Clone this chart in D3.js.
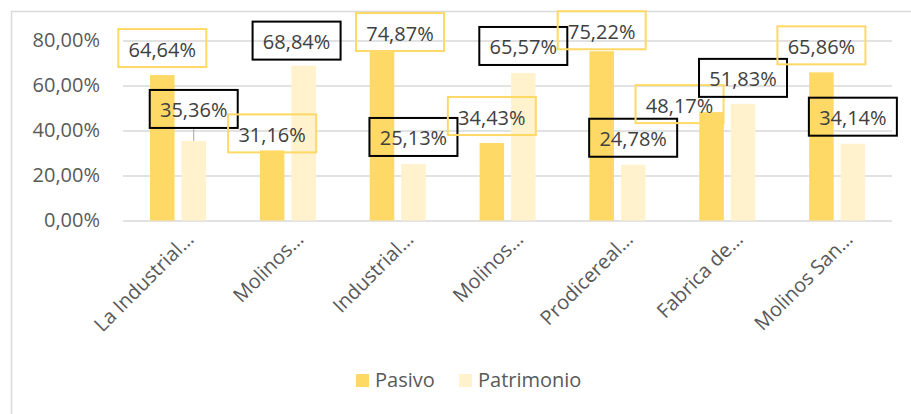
<!DOCTYPE html>
<html>
<head>
<meta charset="utf-8">
<script src="https://cdn.jsdelivr.net/npm/d3@7"></script>
<style>
  body { margin: 0; background: #fff; }
  svg { display: block; font-family: "Open Sans", sans-serif; }
</style>
</head>
<body>
<script>
// data
var empresas = ["La Industrial…", "Molinos…", "Industrial…", "Molinos…", "Prodicereal…", "Fabrica de…", "Molinos San…"];
var series = ["Pasivo", "Patrimonio"];
var pasivo = [64.64, 31.16, 74.87, 34.43, 75.22, 48.17, 65.86];
var patrimonio = [35.36, 68.84, 25.13, 65.57, 24.78, 51.83, 34.14];
var yTicks = [0, 20, 40, 60, 80];

// labels were dragged around by hand in the original, so keep their shifts (px)
var shiftPasivo = [[0, 0], [0, 10], [18, 7], [0, 0], [0, 6], [-32, 19], [0, 0]];
var shiftPatrimonio = [[0, -5], [-7, 2], [0, 0], [0, 0], [0, 0], [0, 1], [0, 0]];

const WIDTH = 911;
const HEIGHT = 414;
const colors = { Pasivo: "#FFD966", Patrimonio: "#FFF2CC" };
const boxStroke = { Pasivo: "#FFD966", Patrimonio: "#000000" };

var svg = d3.select("body").append("svg")
    .attr("width", WIDTH)
    .attr("height", HEIGHT);

// chart frame (only left/top visible in the crop)
svg.append("path")
    .attr("d", "M11.5," + HEIGHT + "V11.5H" + WIDTH)
    .attr("fill", "none")
    .attr("stroke", "#D9D9D9")
    .attr("stroke-width", 1.5);

const PL = 123, PR = 892, PT = 40.5, PB = 220.5;

var x0 = d3.scaleBand().domain(d3.range(empresas.length)).range([PL, PR]);
var x1 = d3.scaleBand().domain(series).range([27, 83]).paddingInner(0.22);
var y = d3.scaleLinear().domain([0, 80]).range([PB, PT]);

// y axis + gridlines
var yAxis = svg.append("g")
    .attr("transform", `translate(${PL},0)`)
    .call(d3.axisLeft(y)
        .tickValues(yTicks)
        .tickSize(-(PR - PL))
        .tickPadding(23)
        .tickFormat(d => d3.format(".2f")(d).replace(".", ",") + "%"));
yAxis.select(".domain").remove();
yAxis.selectAll("line").attr("stroke", "#D9D9D9").attr("stroke-width", 1.5);
yAxis.selectAll("text")
    .attr("fill", "#595959")
    .attr("font-size", "20px")
    .attr("font-family", "Open Sans, sans-serif");

// x axis labels
var xAxis = svg.append("g")
    .attr("transform", `translate(0,${PB})`)
    .call(d3.axisBottom(x0).tickSize(0).tickFormat(i => empresas[i]));
xAxis.select(".domain").remove();
xAxis.selectAll("text")
    .attr("fill", "#595959")
    .attr("font-size", "20px")
    .attr("font-family", "Open Sans, sans-serif")
    .attr("text-anchor", "end")
    .attr("dy", 0)
    .attr("y", 0)
    .attr("transform", "translate(17,20) rotate(-45)");

// bars
var rows = empresas.map((e, i) => ({
    i: i,
    vals: [
        { key: "Pasivo", v: pasivo[i], shift: shiftPasivo[i] },
        { key: "Patrimonio", v: patrimonio[i], shift: shiftPatrimonio[i] }
    ]
}));

var groups = svg.selectAll("g.grp")
    .data(rows)
    .enter()
    .append("g")
    .attr("class", "grp")
    .attr("transform", d => `translate(${x0(d.i)},0)`);

groups.selectAll("rect")
    .data(d => d.vals)
    .enter()
    .append("rect")
    .attr("x", d => x1(d.key))
    .attr("width", x1.bandwidth())
    .attr("y", d => y(d.v))
    .attr("height", d => PB - y(d.v))
    .attr("fill", d => colors[d.key]);

// data labels
const BOX_W = 88, BOX_H = 38, DEF_DY = -27;
var all = [];
rows.forEach(r => r.vals.forEach(d => {
    var cx = x0(r.i) + x1(d.key) + x1.bandwidth() / 2;
    var barTop = y(d.v);
    all.push({
        key: d.key, v: d.v, barTop: barTop, barX: cx,
        cx: cx + d.shift[0],
        cy: barTop + DEF_DY + d.shift[1]
    });
}));

// leader lines where the label sits far from its bar
svg.selectAll("line.leader")
    .data(all.filter(d => d.barTop - (d.cy + BOX_H / 2) > 10))
    .enter()
    .append("line")
    .attr("class", "leader")
    .attr("x1", d => d.cx).attr("x2", d => d.barX)
    .attr("y1", d => d.cy + BOX_H / 2).attr("y2", d => d.barTop)
    .attr("stroke", "#A6A6A6")
    .attr("stroke-width", 1);

svg.selectAll("rect.lbl")
    .data(all)
    .enter()
    .append("rect")
    .attr("class", "lbl")
    .attr("x", d => d.cx - BOX_W / 2)
    .attr("y", d => d.cy - BOX_H / 2)
    .attr("width", BOX_W)
    .attr("height", BOX_H)
    .attr("fill", "none")
    .attr("stroke", d => boxStroke[d.key])
    .attr("stroke-width", 2);

svg.selectAll("text.lbl")
    .data(all)
    .enter()
    .append("text")
    .attr("class", "lbl")
    .attr("x", d => d.cx)
    .attr("y", d => d.cy + 1.5)
    .attr("dy", "0.35em")
    .attr("text-anchor", "middle")
    .attr("font-size", "20px")
    .attr("fill", "#404040")
    .text(d => d3.format(".2f")(d.v).replace(".", ",") + "%");

// legend
var legend = svg.append("g").attr("transform", "translate(356,374)");
var lx = [0, 103];
series.forEach((s, i) => {
    var g = legend.append("g").attr("transform", `translate(${lx[i]},0)`);
    g.append("rect").attr("width", 13).attr("height", 13).attr("fill", colors[s]);
    g.append("text")
        .attr("x", 19).attr("y", 13)
        .attr("font-size", "20px")
        .attr("fill", "#595959")
        .text(s);
});
</script>
</body>
</html>
